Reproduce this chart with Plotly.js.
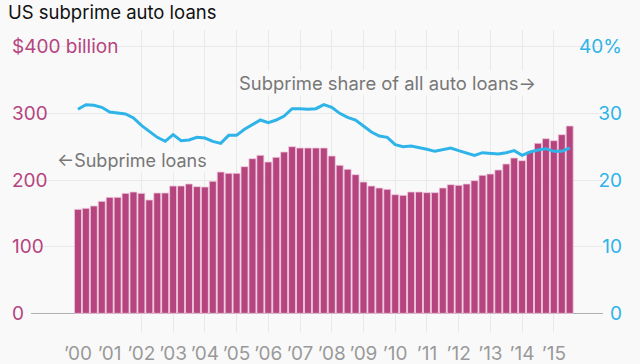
<!DOCTYPE html>
<html>
<head>
<meta charset="utf-8">
<script src="https://cdn.plot.ly/plotly-3.0.1.min.js"></script>
<style>
  html, body { margin: 0; padding: 0; background: #f9f9f9; }
  #chart { width: 640px; height: 364px; }
</style>
</head>
<body>
<div id="chart"></div>
<script>
// Quarters, 2000 Q1 – 2015 Q3
const quarters = [
  "2000 Q1","2000 Q2","2000 Q3","2000 Q4","2001 Q1","2001 Q2","2001 Q3","2001 Q4",
  "2002 Q1","2002 Q2","2002 Q3","2002 Q4","2003 Q1","2003 Q2","2003 Q3","2003 Q4",
  "2004 Q1","2004 Q2","2004 Q3","2004 Q4","2005 Q1","2005 Q2","2005 Q3","2005 Q4",
  "2006 Q1","2006 Q2","2006 Q3","2006 Q4","2007 Q1","2007 Q2","2007 Q3","2007 Q4",
  "2008 Q1","2008 Q2","2008 Q3","2008 Q4","2009 Q1","2009 Q2","2009 Q3","2009 Q4",
  "2010 Q1","2010 Q2","2010 Q3","2010 Q4","2011 Q1","2011 Q2","2011 Q3","2011 Q4",
  "2012 Q1","2012 Q2","2012 Q3","2012 Q4","2013 Q1","2013 Q2","2013 Q3","2013 Q4",
  "2014 Q1","2014 Q2","2014 Q3","2014 Q4","2015 Q1","2015 Q2","2015 Q3"
];

// Subprime auto loans outstanding, $ billion
const subprimeLoans = [
  156,157.5,161,168, 174,174,180,182, 180,170,180.5,180.5, 191,191,194,190,
  189.5,198,212,210, 210,220,232,237, 227,234,242,250, 248,248,248,248,
  236,222,216,208, 197,191,188,186, 178,177,182,182, 181,181,188,193,
  192,194,199,207, 209,215,224,233, 229,242,255,262, 259,268,281
];

// Subprime share of all auto loans, %
const subprimeShare = [
  30.6,31.3,31.2,30.9, 30.2,30.0,29.9,29.3, 28.2,27.3,26.4,25.8, 26.8,25.9,26.0,26.4,
  26.3,25.8,25.5,26.7, 26.7,27.6,28.3,29.0, 28.6,29.0,29.6,30.7, 30.7,30.6,30.7,31.3,
  30.9,30.0,29.4,29.0, 28.1,27.2,26.6,26.4, 25.3,25.0,25.1,24.9, 24.6,24.3,24.5,24.8,
  24.4,24.0,23.7,24.1, 24.0,23.9,24.1,24.4, 23.7,24.2,24.5,24.7, 24.3,24.3,24.8
];

// Year ticks
const yearTicks = [2000,2001,2002,2003,2004,2005,2006,2007,2008,2009,2010,2011,2012,2013,2014,2015];
const yearLabels = ["’00","’01","’02","’03","’04","’05","’06","’07","’08","’09","’10",
  "’11","’12","’13","’14","’15"];

const leftTicks = [0,100,200,300,400];
const leftLabels = ["0","100","200","300","$400 billion"];
const rightTicks = [0,10,20,30,40];
const rightLabels = ["0","10","20","30","40%"];

// "2000 Q1" -> 2000.00, "2000 Q2" -> 2000.25 ... (position of the quarter on the year axis)
const qPos = quarters.map(s => {
  const [y, q] = s.split(" Q");
  return Number(y) + (Number(q) - 1) / 4;
});

const FONT = "Inter, 'Open Sans', sans-serif";
const PINK = "#b5447f";
const BLUE = "#2eb4e9";
const BG = "#f9f9f9";
const XRANGE = [1998.52, 2016.55];

const traces = [
  {
    type: "bar",
    x: qPos,
    y: subprimeLoans,
    width: 0.22,
    marker: { color: PINK, line: { color: "#efcadd", width: 0.8 } },
    yaxis: "y",
    hoverinfo: "skip"
  },
  {
    type: "scatter",
    mode: "lines",
    x: qPos,
    y: subprimeShare,
    line: { color: BLUE, width: 3 },
    yaxis: "y2",
    hoverinfo: "skip"
  },
  // empty trace so that the label-only x axis subplot is created
  {
    type: "scatter",
    mode: "lines",
    x: [],
    y: [],
    xaxis: "x2",
    yaxis: "y3",
    hoverinfo: "skip",
    showlegend: false
  }
];

const mask = (x0, x1, y0, y1) => ({
  type: "rect", layer: "between",
  xref: "paper", yref: "y",
  x0: x0, x1: x1, y0: y0, y1: y1,
  fillcolor: BG, line: { width: 0 }
});

const layout = {
  width: 640,
  height: 364,
  paper_bgcolor: BG,
  plot_bgcolor: "rgba(0,0,0,0)",
  showlegend: false,
  margin: { l: 31, r: 37, t: 30, b: 32, pad: 0 },
  font: { family: FONT, size: 19, color: "#999" },
  title: {
    text: "US subprime auto loans",
    font: { family: FONT, size: 18.5, color: "#111" },
    x: 8 / 640, xref: "container", xanchor: "left",
    y: 1 - 13 / 364, yref: "container", yanchor: "middle"
  },
  // main x axis: year gridlines only
  xaxis: {
    range: XRANGE,
    tickvals: yearTicks,
    showticklabels: false,
    ticks: "",
    showgrid: true,
    gridcolor: "#e9e9e9",
    gridwidth: 1,
    showline: false,
    zeroline: false,
    fixedrange: true
  },
  // label-only x axis on its own subplot, same range
  xaxis2: {
    anchor: "y3",
    domain: [0, 1],
    range: XRANGE,
    tickvals: yearTicks,
    ticktext: yearLabels,
    tickfont: { family: FONT, size: 19, color: "#999" },
    ticks: "",
    ticklabelstandoff: 8,
    showgrid: false,
    showline: false,
    zeroline: false,
    fixedrange: true
  },
  yaxis3: {
    anchor: "x2",
    domain: [0, 1],
    range: [0, 1],
    showgrid: false,
    showticklabels: false,
    zeroline: false,
    showline: false,
    ticks: "",
    fixedrange: true
  },
  yaxis: {
    range: [-28, 425],
    tickvals: leftTicks,
    ticktext: leftLabels,
    tickfont: { family: FONT, size: 19, color: PINK },
    ticks: "",
    ticklabelposition: "inside",
    ticklabelstandoff: -22,
    showgrid: true,
    gridcolor: "#e9e9e9",
    zeroline: true,
    zerolinecolor: "#b0b0b0",
    zerolinewidth: 1,
    showline: false,
    fixedrange: true
  },
  yaxis2: {
    overlaying: "y",
    side: "right",
    range: [-2.8, 42.5],
    tickvals: rightTicks,
    ticktext: rightLabels,
    tickfont: { family: FONT, size: 19, color: BLUE },
    ticks: "",
    ticklabelposition: "inside",
    ticklabelstandoff: -22,
    showgrid: false,
    zeroline: false,
    showline: false,
    fixedrange: true
  },
  shapes: [
    mask(0, (52 - 31) / 572, 50, 350),
    mask(0, (125 - 31) / 572, 380, 420),
    mask((593 - 31) / 572, 1, 50, 350),
    mask((567 - 31) / 572, 1, 380, 420)
  ],
  annotations: [
    {
      text: "Subprime share of all auto loans→",
      xref: "paper", yref: "paper",
      x: (237 - 31) / 572, y: (332 - 83) / 302,
      xanchor: "left", yanchor: "middle",
      showarrow: false, bgcolor: BG,
      font: { family: FONT, size: 18.4, color: "#777" }
    },
    {
      text: "←Subprime loans",
      xref: "paper", yref: "paper",
      x: (55 - 31) / 572, y: (332 - 160) / 302,
      xanchor: "left", yanchor: "middle",
      showarrow: false, bgcolor: BG,
      font: { family: FONT, size: 18, color: "#777" }
    }
  ]
};

Plotly.newPlot("chart", traces, layout, { displayModeBar: false, staticPlot: true });
</script>
</body>
</html>
